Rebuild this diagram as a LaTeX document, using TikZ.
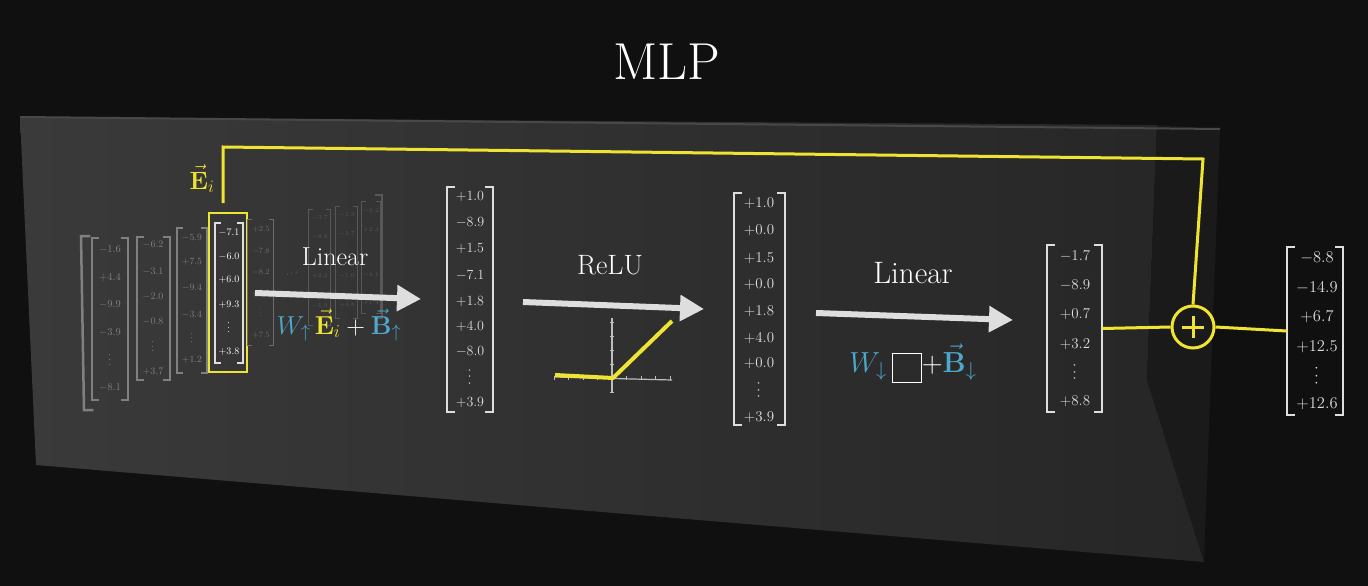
\RequirePackage{fix-cm}
\documentclass[tikz,border=0pt]{standalone}
\usepackage{graphicx}
\usetikzlibrary{arrows.meta,calc}
\definecolor{bg}{RGB}{16,16,16}
\definecolor{faceL}{RGB}{58,58,58}
\definecolor{faceR}{RGB}{38,38,39}
\definecolor{sidec}{RGB}{26,26,26}
\definecolor{edgec}{RGB}{72,72,72}
\definecolor{ylw}{RGB}{240,228,50}
\definecolor{blu}{RGB}{78,168,204}
\definecolor{txt}{RGB}{222,222,222}
\definecolor{fadeA}{RGB}{128,128,128}
\definecolor{fadeB}{RGB}{108,108,108}
\definecolor{fadeC}{RGB}{88,88,88}
\newcommand{\vd}{\rotatebox{90}{$\cdots$}}
\tikzset{
  ent/.style={inner sep=0pt, anchor=center},
  matbox/.style={inner sep=0pt, minimum width=#1},
  brk/.style={line width=1.8pt, line cap=rect},
  bigarrow/.style={line width=6pt, draw=txt, -{Triangle[length=24pt,width=25pt]}},
  resid/.style={draw=ylw, line width=3pt},
  axisline/.style={draw=txt!85!black, line width=1.2pt},
  lbl/.style={text=white, inner sep=0pt},
}
% prefix, x, font size, colour, list value/y
\newcommand{\vecentries}[5]{%
  \foreach \v/\yy [count=\k] in {#5} {%
    \node[ent, text=#4, font=\fontsize{#3}{#3}\selectfont] (#1-\k) at (#2,\yy) {$\v$};}}
% node, colour, serif, width
\newcommand{\brackets}[4]{%
  \draw[brk, draw=#2, line width=#4] ([xshift=#3]#1.north west) -- (#1.north west) -- (#1.south west) -- ([xshift=#3]#1.south west);
  \draw[brk, draw=#2, line width=#4] ([xshift=-#3]#1.north east) -- (#1.north east) -- (#1.south east) -- ([xshift=-#3]#1.south east);}
\begin{document}
\begin{tikzpicture}[x=1pt,y=-1pt]
\useasboundingbox (0,0) rectangle (1368,586);
\fill[bg] (0,0) rectangle (1368,586);
% box
\shade[left color=faceL, right color=faceR] (20,117) -- (1157,125) -- (1147,380) -- (1204,562) -- (36,465) -- cycle;
\fill[sidec] (1157,125) -- (1220,129) -- (1204,562) -- (1147,380) -- cycle;
\draw[edgec, line width=2pt] (20,117) -- (1220,129);

% title
\node[lbl, font=\fontsize{52}{60}\selectfont] (title) at (667,62) {MLP};

% faint embedding columns
\draw[brk, draw=fadeA, line width=2.5pt] (89,236) -- (81,236) -- (84,410) -- (92,410);
\draw[brk, draw=fadeC, line width=1.5pt] (376,195) -- (382,195) -- (382,318) -- (376,318);
\node[matbox=36pt, minimum height=162pt] (c1) at (110,319) {};
\brackets{c1}{fadeA}{6pt}{1.5pt}
\vecentries{c1e}{110}{10.5}{fadeA}{-1.6/250, +4.4/278, -9.9/305, -3.9/333, \vd/360, -8.1/388}
\node[matbox=33pt, minimum height=143pt] (c2) at (153.5,308.5) {};
\brackets{c2}{fadeA}{6pt}{1.5pt}
\vecentries{c2e}{153}{10}{fadeA}{-6.2/245, -3.1/272, -2.0/297, -0.8/322, \vd/347, +3.7/372}
\node[matbox=30pt, minimum height=145pt] (c3) at (192,300.5) {};
\brackets{c3}{fadeA}{5pt}{1.5pt}
\vecentries{c3e}{192}{9.5}{fadeA}{-5.9/238, +7.5/262, -9.4/288, -3.4/315, \vd/338, +1.2/360}
% highlighted column
\node[matbox=28pt, minimum height=140pt] (c4) at (229,293) {};
\brackets{c4}{txt}{5pt}{1.5pt}
\vecentries{c4e}{229}{10}{white}{-7.1/233, -6.0/257, +6.0/280, +9.3/305, \vd/328, +3.8/352}
\node[draw=ylw, line width=2.5pt, inner sep=0pt, minimum width=38pt, minimum height=159pt] (hl) at (228,292.5) {};
\node[matbox=25pt, minimum height=125pt] (c5) at (260.5,282.5) {};
\brackets{c5}{fadeB}{4pt}{1.2pt}
\vecentries{c5e}{261}{8}{fadeB}{+2.5/229, -7.8/251, -8.2/272, -5.0/293, \vd/313, +7.5/335}
\node[ent, text=fadeB, rotate=15, font=\fontsize{10}{10}\selectfont] (cdots) at (292,274) {$\cdots$};
\node[matbox=21pt, minimum height=115pt] (c6) at (319.5,267.5) {};
\brackets{c6}{fadeC}{4pt}{1.2pt}
\vecentries{c6e}{320}{6}{fadeC}{-3.7/218, -8.6/237, +2.2/276, \vd/292, -1.9/306}
\node[matbox=21pt, minimum height=111pt] (c7) at (346.5,262.5) {};
\brackets{c7}{fadeC}{4pt}{1.2pt}
\vecentries{c7e}{347}{6}{fadeC}{-1.3/215, -3.7/234, -1.0/276, \vd/291, +4.8/305}
\node[matbox=18pt, minimum height=111pt] (c8) at (371,257.5) {};
\brackets{c8}{fadeC}{4pt}{1.2pt}
\vecentries{c8e}{371}{5.5}{fadeC}{-3.2/211, +2.3/230, -4.1/275, \vd/289, +1.4/303}

% E_i label and residual path
\node[lbl, text=ylw, anchor=base, font=\fontsize{25}{25}\selectfont] (ei) at (202,189) {$\vec{\mathbf{E}}_i$};
\coordinate (rs) at (223,203);
\coordinate (rtl) at (223,147);
\coordinate (rtr) at (1203,159);

% main vectors
\node[matbox=46pt, minimum height=225pt] (A) at (470,299.5) {};
\brackets{A}{txt}{7pt}{1.8pt}
\vecentries{Ae}{470}{14}{txt}{+1.0/197, -8.9/223, +1.5/249, -7.1/276, +1.8/302, +4.0/327, -8.0/352, \vd/377, +3.9/403}
\node[matbox=51pt, minimum height=232pt] (B) at (759.5,309) {};
\brackets{B}{txt}{7pt}{1.8pt}
\vecentries{Be}{759}{15}{txt}{+1.0/203, +0.0/230, +1.5/258, +0.0/284, +1.8/311, +4.0/338, +0.0/363, \vd/390, +3.9/417}
\node[matbox=55pt, minimum height=167pt] (C) at (1074.5,328.5) {};
\brackets{C}{txt}{7pt}{1.8pt}
\vecentries{Ce}{1075}{15}{txt}{-1.7/256, -8.9/285, +0.7/314, +3.2/344, \vd/372, +8.8/401}
\node[matbox=56pt, minimum height=168pt] (D) at (1315,331) {};
\brackets{D}{txt}{7pt}{1.8pt}
\vecentries{De}{1317}{16.5}{txt}{-8.8/258, -14.9/288, +6.7/317, +12.5/347, \vd/376, +12.6/404}

% plus
\node[circle, draw=ylw, line width=3pt, minimum size=42pt, inner sep=0pt] (plus) at (1193,327) {};
\draw[ylw, line width=3pt] ([xshift=-11pt]plus.center) -- ([xshift=11pt]plus.center);
\draw[ylw, line width=3pt] ([yshift=-11pt]plus.center) -- ([yshift=11pt]plus.center);

\draw[resid] (rs) -- (rtl) -- (rtr) -- (plus.north);
\draw[resid] (C.east) -- (plus.west);
\draw[resid] (plus.east) -- (D.west);

% arrows and labels
\coordinate (a1s) at (255,293); \coordinate (a1e) at (421,299);
\coordinate (a2s) at (523,302); \coordinate (a2e) at (704,309);
\coordinate (a3s) at (816,313); \coordinate (a3e) at (1013,320);
\draw[bigarrow] (a1s) -- (a1e);
\draw[bigarrow] (a2s) -- (a2e);
\draw[bigarrow] (a3s) -- (a3e);

\node[lbl, font=\fontsize{26}{26}\selectfont] (lin1) at (335,257) {Linear};
\node[lbl, anchor=base, font=\fontsize{26}{26}\selectfont] (f1) at (339,334)
  {$\textcolor{blu}{W_{\uparrow}}\,\textcolor{ylw}{\vec{\mathbf{E}}_i}+\textcolor{blu}{\vec{\mathbf{B}}_{\uparrow}}$};
\node[lbl, font=\fontsize{28}{28}\selectfont] (relu) at (610,265) {ReLU};
\node[lbl, font=\fontsize{31}{31}\selectfont] (lin2) at (913,273) {Linear};
\node[lbl, anchor=base, font=\fontsize{29}{29}\selectfont] (f2) at (913,372)
  {$\textcolor{blu}{W_{\downarrow}}\,\raisebox{-0.33em}{\fboxsep=0pt\fboxrule=1.3pt\fbox{\rule{0pt}{0.95em}\hspace{0.95em}}}{+}\textcolor{blu}{\vec{\mathbf{B}}_{\downarrow}}$};

% ReLU plot
\coordinate (ox) at (612,378);
\draw[axisline] (555,377) -- (672,380);
\draw[axisline] (612,318) -- (612,393);
\foreach \t in {-4,-3,-2,-1,1,2,3,4} {
  \draw[axisline, line width=0.8pt] ($(ox)+(\t*14.5,-2)$) -- ($(ox)+(\t*14.5,2)$);
}
\foreach \t in {-4,-3,-2,-1,1} {
  \draw[axisline, line width=0.8pt] ($(ox)+(-2,\t*14)$) -- ($(ox)+(2,\t*14)$);
}
\draw[ylw, line width=4pt, line join=round] (555,375) -- (613,378) -- (672,321);
\end{tikzpicture}
\end{document}
